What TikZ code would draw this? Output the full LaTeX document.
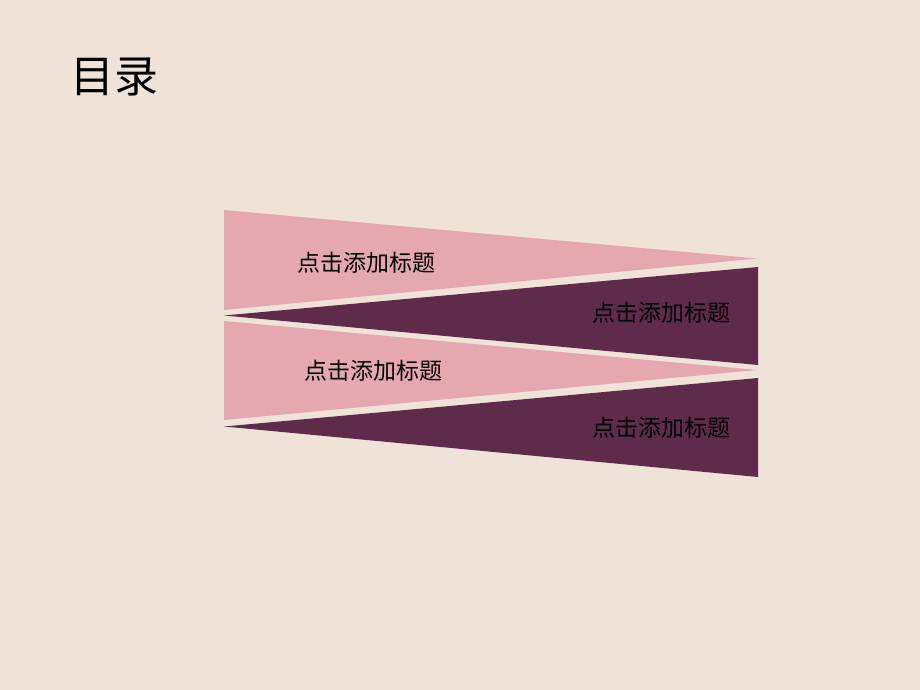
\documentclass[tikz,border=0pt]{standalone}
\usepackage{fontspec}
\newfontfamily\cjk{Noto Sans CJK SC}
\definecolor{bgc}{HTML}{EFE3D8}
\definecolor{pinkc}{HTML}{E6A8B0}
\definecolor{darkc}{HTML}{5E2B4A}
\tikzset{
  lbl/.style={font=\cjk\fontsize{23}{25}\selectfont, text=black, inner sep=0pt},
  pinkpart/.style={fill=pinkc, draw=none},
  darkpart/.style={fill=darkc, draw=none}
}
\begin{document}
\begin{tikzpicture}[x=1pt,y=-1pt]
\fill[bgc] (0,0) rectangle (920,690);
\useasboundingbox (0,0) rectangle (920,690);
% band 1 pink
\fill[pinkpart] (224,210) -- (757,258.5) -- (224,310) -- cycle;
% band 1 dark
\fill[darkpart] (224,315.5) -- (758,267) -- (758,365) -- cycle;
% band 2 pink
\fill[pinkpart] (224,321) -- (757,370) -- (224,420) -- cycle;
% band 2 dark
\fill[darkpart] (224,426.5) -- (758,378) -- (758,477) -- cycle;
\node[anchor=west, font=\cjk\fontsize{44}{48}\selectfont, inner sep=0pt] (title) at (70,77) {目录};
\node[lbl] (t1) at (366,263) {点击添加标题};
\node[lbl] (t2) at (661,313) {点击添加标题};
\node[lbl] (t3) at (373,371) {点击添加标题};
\node[lbl] (t4) at (661,428) {点击添加标题};
\end{tikzpicture}
\end{document}
